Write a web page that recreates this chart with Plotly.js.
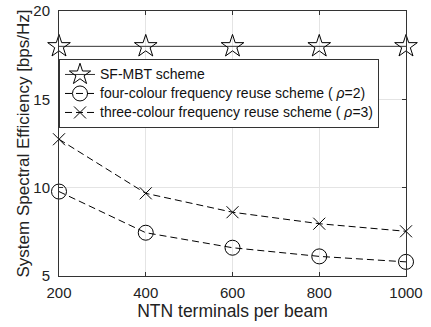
<!DOCTYPE html>
<html><head><meta charset="utf-8">
<script src="https://cdn.plot.ly/plotly-3.0.1.min.js"></script>
<style>body{margin:0;background:#fff}#c{width:431px;height:327px}</style>
</head><body><div id="c"></div>
<script>
const terminals = [200, 400, 600, 800, 1000];
const sfmbt = [18.0, 18.0, 18.0, 18.0, 18.0];
const fourColour = [9.78, 7.45, 6.60, 6.11, 5.80];
const threeColour = [12.74, 9.68, 8.61, 7.96, 7.53];
const names = ['SF-MBT scheme', 'four-colour frequency reuse scheme ( <i>ρ</i>=2)', 'three-colour frequency reuse scheme ( <i>ρ</i>=3)'];
const xTicks = [200, 400, 600, 800, 1000];
const yTicks = [5, 10, 15, 20];
const xTitle = 'NTN terminals per beam';
const yTitle = 'System Spectral Efficiency [bps/Hz]';

const font = 'Liberation Sans, Arial, Helvetica, sans-serif';
const leg = (s) => '<span style="font-size:14px">' + s + '</span>';
const traces = [
  {x: terminals, y: sfmbt, name: leg(names[0]), mode: 'lines+markers', cliponaxis: false,
   line: {color: '#333', width: 1}, marker: {symbol: 'star-open', size: 17, color: '#000', line: {width: 1}}},
  {x: terminals, y: fourColour, name: leg(names[1]), mode: 'lines+markers', cliponaxis: false,
   line: {color: '#000', width: 1, dash: '7px,4px'}, marker: {symbol: 'circle-open', size: 15, color: '#000', line: {width: 1}}},
  {x: terminals, y: threeColour, name: leg(names[2]), mode: 'lines+markers', cliponaxis: false,
   line: {color: '#000', width: 1, dash: '7px,4px'}, marker: {symbol: 'x-thin-open', size: 12, color: '#000', line: {width: 1}}}
];
const axis = {showline: true, mirror: 'ticks', linecolor: '#333', linewidth: 1, ticks: 'inside', ticklen: 4,
  tickcolor: '#333', showgrid: true, gridcolor: '#e4e4e4', zeroline: false, tickfont: {size: 15, color: '#222', family: font}};
const layout = {
  width: 431, height: 327, margin: {l: 59, r: 25, t: 11, b: 51},
  paper_bgcolor: '#fff', plot_bgcolor: '#fff', font: {family: font, color: '#222'},
  xaxis: Object.assign({}, axis, {range: [200, 1000], tickvals: xTicks, ticktext: xTicks.map(String), ticklabelstandoff: 3,
    title: {text: xTitle, font: {size: 17.5, color: '#222'}, standoff: 2}}),
  yaxis: Object.assign({}, axis, {range: [5, 20], tickvals: yTicks, ticktext: yTicks.map(String), ticklabelstandoff: 5}),
  annotations: [{text: yTitle, xref: 'paper', yref: 'paper', x: 0, y: 0.5, xanchor: 'center', yanchor: 'middle',
    xshift: -36, textangle: -90, showarrow: false, font: {size: 17, color: '#222', family: font}}],
  showlegend: true,
  legend: {x: 0, y: 0.819, xanchor: 'left', yanchor: 'top', bgcolor: '#fff', bordercolor: '#333', borderwidth: 1,
    font: {size: 11.5, color: '#111', family: font}, tracegroupgap: 0, itemwidth: 30}
};
Plotly.newPlot('c', traces, layout, {displayModeBar: false, staticPlot: true});
</script></body></html>
